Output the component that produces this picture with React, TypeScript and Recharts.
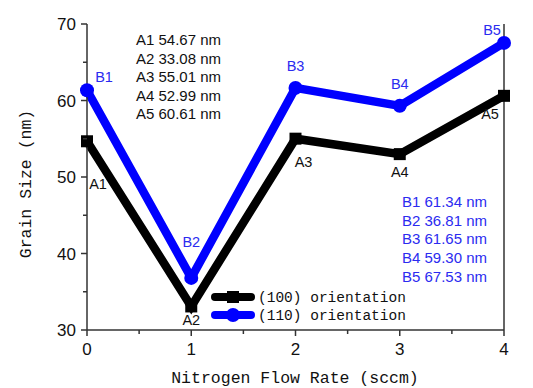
import { Legend, Line, LineChart, LabelList, XAxis, YAxis } from "recharts";

const flowRates = [0, 1, 2, 3, 4];
const grain100 = [54.67, 33.08, 55.01, 52.99, 60.61];
const grain110 = [61.34, 36.81, 61.65, 59.3, 67.53];
const xTicks = [0, 0.5, 1, 1.5, 2, 2.5, 3, 3.5, 4];
const yTicks = [30, 35, 40, 45, 50, 55, 60, 65, 70];

const data = flowRates.map((f, i) => ({ flow: f, a: grain100[i], b: grain110[i] }));

// label offsets relative to each point
const aOffsets = [
  [11, 43],
  [0, 14],
  [8, 23],
  [0, 18],
  [-14, 18],
];
const bOffsets = [
  [17, -13],
  [0, -36],
  [0, -22],
  [0, -22],
  [-12, -13],
];

const AXIS = "#333";
const BLUE = "#0000ff";
const BLUE_TEXT = "#2b2bf0";
const SANS = "'Liberation Sans', Arial, sans-serif";
const MONO = "'Liberation Mono', 'DejaVu Sans Mono', monospace";

const BottomTick = ({ x, y, payload }: any) => {
  const major = Number.isInteger(payload.value);
  return (
    <g>
      <line x1={x} x2={x} y1={y} y2={y + (major ? 6 : 4)} stroke={AXIS} strokeWidth={1.5} />
      {major && (
        <text x={x} y={y + 25} textAnchor="middle" fontSize={17} fontFamily={SANS} fill="#111">
          {payload.value}
        </text>
      )}
    </g>
  );
};

const TopTick = ({ x, y, payload }: any) => {
  const major = Number.isInteger(payload.value);
  return <line x1={x} x2={x} y1={y} y2={y + (major ? 6 : 4)} stroke={AXIS} strokeWidth={1.5} />;
};

const LeftTick = ({ x, y, payload }: any) => {
  const major = payload.value % 10 === 0;
  return (
    <g>
      <line x1={x - (major ? 6 : 4)} x2={x} y1={y} y2={y} stroke={AXIS} strokeWidth={1.5} />
      {major && (
        <text x={x - 11} y={y + 6} textAnchor="end" fontSize={17} fontFamily={SANS} fill="#111">
          {payload.value}
        </text>
      )}
    </g>
  );
};

const RightTick = ({ x, y, payload }: any) => {
  const major = payload.value % 10 === 0;
  return (
    <g>
      <line x1={x - (major ? 6 : 4)} x2={x} y1={y} y2={y} stroke={AXIS} strokeWidth={1.5} />
      {major && (
        <text x={x + 8} y={y + 6} textAnchor="start" fontSize={17} fontFamily={SANS} fill="#111">
          {payload.value}
        </text>
      )}
    </g>
  );
};

const SquareDot = ({ cx, cy }: any) => (
  <rect x={cx - 6} y={cy - 6} width={12} height={12} fill="#000" />
);
const CircleDot = ({ cx, cy }: any) => <circle cx={cx} cy={cy} r={7} fill={BLUE} />;

const pointLabel =
  (prefix: string, offsets: number[][], color: string) =>
  ({ x, y, index }: any) => {
    const [dx, dy] = offsets[index];
    return (
      <text
        x={x + dx}
        y={y + dy}
        textAnchor="middle"
        dominantBaseline="central"
        fontSize={14.5}
        fontFamily={SANS}
        fill={color}
      >
        {prefix}
        {index + 1}
      </text>
    );
  };

const LegendContent = () => {
  const rows = [
    { name: "(100) orientation", color: "#000", square: true },
    { name: "(110) orientation", color: BLUE, square: false },
  ];
  return (
    <svg width={200} height={40}>
      {rows.map((r, i) => {
        const cy = 9 + i * 18;
        return (
          <g key={r.name}>
            <line x1={4} x2={40} y1={cy} y2={cy} stroke={r.color} strokeWidth={8} strokeLinecap="round" />
            {r.square ? (
              <rect x={16} y={cy - 6} width={12} height={12} fill={r.color} />
            ) : (
              <circle cx={22} cy={cy} r={7} fill={r.color} />
            )}
            <text x={47} y={cy + 5} fontSize={14.5} fontFamily={MONO} fill="#111">
              {r.name}
            </text>
          </g>
        );
      })}
    </svg>
  );
};

export default function App() {
  return (
    <div style={{ position: "absolute", left: 0, top: 0, width: 533, height: 388, background: "#fff" }}>
      <LineChart
        width={533}
        height={388}
        data={data}
        margin={{ top: 24, right: 0, left: 47, bottom: 0 }}
      >
        <XAxis
          xAxisId="bottom"
          dataKey="flow"
          type="number"
          domain={[0, 4]}
          ticks={xTicks}
          interval={0}
          height={58}
          tickSize={0}
          tickMargin={0}
          tickLine={false}
          axisLine={{ stroke: AXIS, strokeWidth: 1.5 }}
          tick={<BottomTick />}
        />
        <XAxis
          xAxisId="top"
          orientation="top"
          dataKey="flow"
          type="number"
          domain={[0, 4]}
          ticks={xTicks}
          interval={0}
          height={0}
          tickSize={0}
          tickMargin={0}
          tickLine={false}
          axisLine={{ stroke: AXIS, strokeWidth: 1.5 }}
          tick={<TopTick />}
        />
        <YAxis
          yAxisId="left"
          domain={[30, 70]}
          ticks={yTicks}
          interval={0}
          width={40}
          tickSize={0}
          tickMargin={0}
          tickLine={false}
          axisLine={{ stroke: AXIS, strokeWidth: 1.5 }}
          tick={<LeftTick />}
        />
        <YAxis
          yAxisId="right"
          orientation="right"
          domain={[30, 70]}
          ticks={yTicks}
          interval={0}
          width={29}
          tickSize={0}
          tickMargin={0}
          tickLine={false}
          axisLine={{ stroke: AXIS, strokeWidth: 1.5 }}
          tick={<RightTick />}
        />
        <Line
          xAxisId="bottom"
          yAxisId="left"
          dataKey="a"
          name="(100) orientation"
          stroke="#000"
          strokeWidth={8.5}
          dot={<SquareDot />}
          activeDot={false}
          isAnimationActive={false}
        >
          <LabelList dataKey="a" content={pointLabel("A", aOffsets, "#111")} />
        </Line>
        <Line
          xAxisId="bottom"
          yAxisId="left"
          dataKey="b"
          name="(110) orientation"
          stroke={BLUE}
          strokeWidth={8.5}
          strokeLinejoin="round"
          dot={<CircleDot />}
          activeDot={false}
          isAnimationActive={false}
        >
          <LabelList dataKey="b" content={pointLabel("B", bOffsets, BLUE_TEXT)} />
        </Line>
        <Legend
          layout="vertical"
          align="center"
          verticalAlign="middle"
          content={<LegendContent />}
          wrapperStyle={{ left: 211, top: 288, width: 200 }}
        />
        <text x={295} y={383} textAnchor="middle" fontSize={16.5} fontFamily={MONO} fill="#111">
          Nitrogen Flow Rate (sccm)
        </text>
        <text
          x={31}
          y={184}
          transform="rotate(-90 31 184)"
          textAnchor="middle"
          fontSize={16.5}
          fontFamily={MONO}
          fill="#111"
        >
          Grain Size (nm)
        </text>
      </LineChart>
      <div
        style={{
          position: "absolute",
          left: 136,
          top: 31,
          fontFamily: SANS,
          fontSize: 15,
          lineHeight: "18.5px",
          color: "#111",
        }}
      >
        {grain100.map((v, i) => (
          <div key={i}>{`A${i + 1} ${v.toFixed(2)} nm`}</div>
        ))}
      </div>
      <div
        style={{
          position: "absolute",
          left: 402,
          top: 193,
          fontFamily: SANS,
          fontSize: 15,
          lineHeight: "18.7px",
          color: BLUE_TEXT,
        }}
      >
        {grain110.map((v, i) => (
          <div key={i}>{`B${i + 1} ${v.toFixed(2)} nm`}</div>
        ))}
      </div>
    </div>
  );
}
